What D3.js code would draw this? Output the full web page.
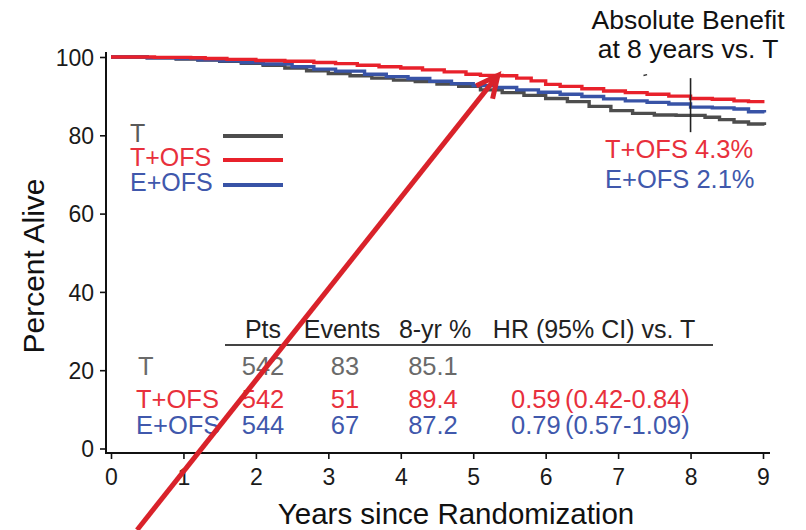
<!DOCTYPE html>
<html>
<head>
<meta charset="utf-8">
<script src="https://cdn.jsdelivr.net/npm/d3@7"></script>
<style>
  html, body { margin: 0; padding: 0; background: #fff; }
  svg { display: block; font-family: "Liberation Sans", Arial, sans-serif; }
  .tick text { font-size: 23px; font-family: "Liberation Sans", Arial, sans-serif; }
</style>
</head>
<body>
<svg id="chart" width="806" height="530"></svg>
<script>
// Kaplan-Meier overall survival, by arm (years, percent alive)
const seriesNames = ["T", "T+OFS", "E+OFS"];
const timesT = [0, 0.5, 0.9, 1.2, 1.5, 1.8, 2.1, 2.4, 2.7, 3.0, 3.3, 3.6, 3.9, 4.2, 4.5, 4.8, 5.1, 5.4, 5.7, 6.0, 6.3, 6.6, 6.9, 7.2, 7.5, 7.8, 8.0, 8.2, 8.4, 8.6, 8.8, 9.02];
const survT = [100, 99.8, 99.5, 99.2, 98.9, 98.4, 97.9, 97.2, 96.5, 95.8, 95.2, 94.6, 94.1, 93.7, 93.1, 92.5, 91.6, 90.9, 90.2, 89.4, 88.6, 87.4, 86.3, 85.6, 85.2, 85.1, 85.1, 84.6, 84.0, 83.4, 82.9, 82.6];
const timesTOFS = [0, 0.6, 1.1, 1.3, 1.6, 2.0, 2.4, 2.8, 3.1, 3.4, 3.7, 4.0, 4.3, 4.6, 4.9, 5.1, 5.4, 5.6, 5.8, 6.0, 6.2, 6.5, 6.8, 7.1, 7.4, 7.7, 8.0, 8.3, 8.6, 8.8, 9.02];
const survTOFS = [100, 99.9, 99.8, 99.6, 99.4, 99.1, 98.9, 98.6, 98.3, 97.9, 97.5, 97.2, 96.7, 96.2, 95.6, 95.3, 95.2, 94.6, 93.9, 93.0, 92.5, 91.9, 91.3, 90.9, 90.5, 90.0, 89.4, 89.2, 88.8, 88.6, 88.6];
const timesEOFS = [0, 0.5, 0.9, 1.2, 1.5, 1.8, 2.1, 2.5, 2.8, 3.1, 3.5, 3.8, 4.1, 4.4, 4.7, 5.0, 5.3, 5.6, 5.9, 6.2, 6.5, 6.8, 7.1, 7.4, 7.7, 8.0, 8.3, 8.6, 8.8, 9.02];
const survEOFS = [100, 99.8, 99.6, 99.3, 99.0, 98.6, 98.2, 97.5, 96.9, 96.4, 95.6, 95.0, 94.5, 93.8, 93.2, 92.7, 92.2, 91.6, 91.0, 90.5, 89.9, 89.3, 88.8, 88.4, 88.0, 87.2, 87.0, 86.7, 86.0, 85.8];

// Summary table
const tableHeaders = ["Pts", "Events", "8-yr %", "HR (95% CI) vs. T"];
const pts = [542, 542, 544];
const events = [83, 51, 67];
const eightYr = ["85.1", "89.4", "87.2"];
const hr = ["", "0.59", "0.79"];
const hrCI = ["", "(0.42-0.84)", "(0.57-1.09)"];

// Absolute benefit at 8 years vs. T
const benefitNames = ["T+OFS", "E+OFS"];
const benefitValues = ["4.3%", "2.1%"];

// Axis ticks
const xTicks = [0, 1, 2, 3, 4, 5, 6, 7, 8, 9];
const yTicks = [0, 20, 40, 60, 80, 100];

const lineColors = ["#4d4d4d", "#e8212b", "#3853a6"];
const textColors = ["#5a5a5a", "#e8303c", "#4058ac"];

const svg = d3.select("#chart");
const x = d3.scaleLinear().domain([0, 9]).range([111, 763]);
const y = d3.scaleLinear().domain([0, 100]).range([448.5, 57]);

// Axes
const gx = svg.append("g").attr("transform", "translate(0,453)")
  .call(d3.axisBottom(x).tickValues(xTicks).tickSize(6).tickSizeOuter(0).tickPadding(10));
const gy = svg.append("g").attr("transform", "translate(106,0)")
  .call(d3.axisLeft(y).tickValues(yTicks).tickSize(6).tickSizeOuter(0).tickPadding(6));
[gx, gy].forEach(g => {
  g.attr("font-size", null).attr("font-family", null);
  g.select(".domain").remove();
  g.selectAll(".tick line").attr("stroke", "#111").attr("stroke-width", 1.6);
  g.selectAll(".tick text").attr("fill", "#1a1a1a");
});
gy.selectAll(".tick text").attr("dy", "0.36em");
svg.append("line").attr("x1", 106).attr("x2", 106).attr("y1", 52).attr("y2", 454)
  .attr("stroke", "#111").attr("stroke-width", 2);
svg.append("line").attr("x1", 105).attr("x2", 770).attr("y1", 453).attr("y2", 453)
  .attr("stroke", "#111").attr("stroke-width", 2);

// Axis titles
svg.append("text").attr("x", 456).attr("y", 524).attr("text-anchor", "middle")
  .style("font-size", "29.5px").attr("fill", "#111").text("Years since Randomization");
svg.append("text").attr("transform", "translate(44,266) rotate(-90)").attr("text-anchor", "middle")
  .style("font-size", "30px").attr("fill", "#111").text("Percent Alive");

// Survival curves
const curves = [
  timesT.map((t, i) => [t, survT[i]]),
  timesTOFS.map((t, i) => [t, survTOFS[i]]),
  timesEOFS.map((t, i) => [t, survEOFS[i]])
];
const line = d3.line().x(d => x(d[0])).y(d => y(d[1])).curve(d3.curveStepAfter);
[0, 2, 1].forEach(i => {
  svg.append("path").datum(curves[i]).attr("d", line)
    .attr("fill", "none").attr("stroke", lineColors[i]).attr("stroke-width", 3.4);
});

// Legend
const legY = [142, 166, 191];
seriesNames.forEach((name, i) => {
  svg.append("text").attr("x", 130).attr("y", legY[i]).style("font-size", "25px")
    .attr("fill", textColors[i]).text(name);
  svg.append("line").attr("x1", 223).attr("x2", 283).attr("y1", legY[i] - 6).attr("y2", legY[i] - 6)
    .attr("stroke", lineColors[i]).attr("stroke-width", 4);
});

// Absolute benefit annotation
svg.append("text").attr("x", 688).attr("y", 29).attr("text-anchor", "middle")
  .style("font-size", "26.5px").attr("fill", "#111").text("Absolute Benefit");
svg.append("text").attr("x", 688).attr("y", 58).attr("text-anchor", "middle")
  .style("font-size", "26.5px").attr("fill", "#111").text("at 8 years vs. T");
svg.append("line").attr("x1", x(8)).attr("x2", x(8)).attr("y1", y(94.6)).attr("y2", y(80.8))
  .attr("stroke", "#222").attr("stroke-width", 1.6);
svg.append("line").attr("x1", x(7.35)).attr("x2", x(7.4)).attr("y1", y(95.3)).attr("y2", y(95.5))
  .attr("stroke", "#333").attr("stroke-width", 1.5);
benefitNames.forEach((name, i) => {
  svg.append("text").attr("x", 605).attr("y", [158, 188][i]).style("font-size", "25.5px")
    .attr("fill", textColors[i + 1]).text(name + " " + benefitValues[i]);
});

// Summary table
const colX = [263, 342, 435, 594];
tableHeaders.forEach((h, j) => {
  svg.append("text").attr("x", colX[j]).attr("y", 338).attr("text-anchor", "middle")
    .style("font-size", "25px").attr("fill", "#222").text(h);
});
svg.append("line").attr("x1", 225).attr("x2", 713).attr("y1", 345).attr("y2", 345)
  .attr("stroke", "#444").attr("stroke-width", 2);
const rowY = [375, 408, 434];
seriesNames.forEach((name, i) => {
  const c = i === 0 ? "#6a6a6a" : textColors[i];
  const row = svg.append("g").style("font-size", "25.5px").attr("fill", c);
  row.append("text").attr("x", i === 0 ? 138 : 136).attr("y", rowY[i]).text(name);
  row.append("text").attr("x", colX[0]).attr("y", rowY[i]).attr("text-anchor", "middle").text(pts[i]);
  row.append("text").attr("x", 345).attr("y", rowY[i]).attr("text-anchor", "middle").text(events[i]);
  row.append("text").attr("x", 433).attr("y", rowY[i]).attr("text-anchor", "middle").text(eightYr[i]);
  if (hr[i]) {
    row.append("text").attr("x", 511).attr("y", rowY[i]).text(hr[i]);
    row.append("text").attr("x", 565).attr("y", rowY[i]).text(hrCI[i]);
  }
});

// Red arrow pointing at the T+OFS curve
const tip = [x(5.34), y(95.3)];
const tail = [x(0.36), y(-20.8)];
const arrowColor = "#d9222a";
svg.append("line").attr("x1", tail[0]).attr("y1", tail[1]).attr("x2", tip[0]).attr("y2", tip[1])
  .attr("stroke", arrowColor).attr("stroke-width", 5);
const ang = Math.atan2(tail[1] - tip[1], tail[0] - tip[0]);
const barb = 24, spread = 0.45;
const head = [
  [tip[0] + barb * Math.cos(ang + spread), tip[1] + barb * Math.sin(ang + spread)],
  tip,
  [tip[0] + barb * Math.cos(ang - spread), tip[1] + barb * Math.sin(ang - spread)]
];
svg.append("path").attr("d", d3.line()(head)).attr("fill", "none")
  .attr("stroke", arrowColor).attr("stroke-width", 5).attr("stroke-linejoin", "miter");
</script>
</body>
</html>
